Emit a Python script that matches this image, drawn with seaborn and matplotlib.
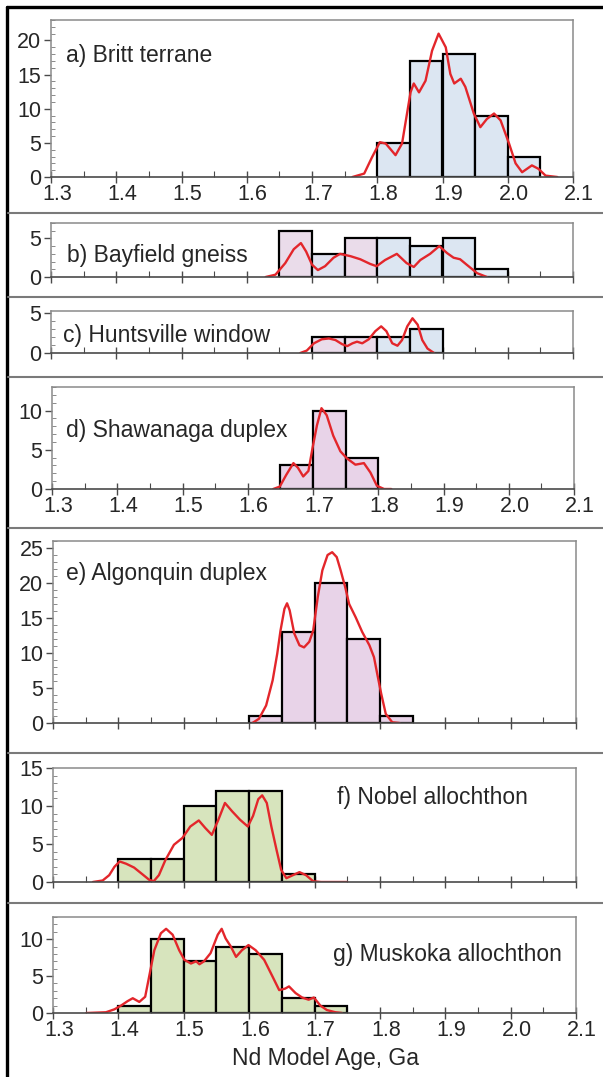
import numpy as np
import pandas as pd
import seaborn as sns
import matplotlib.pyplot as plt
from matplotlib.lines import Line2D
from matplotlib.transforms import ScaledTranslation
from matplotlib.ticker import MultipleLocator, FormatStrFormatter

#Data----------------------------------------------------------------------
# histogram bins: left edge of each 0.05 Ga bin and the count in it

britt_bins = [1.80, 1.85, 1.90, 1.95, 2.00]
britt_counts = [5, 17, 18, 9, 3]
britt_curve_x = [1.762, 1.780, 1.792, 1.804, 1.813, 1.828, 1.838, 1.851, 1.856, 1.864,
                 1.874, 1.884, 1.894, 1.905, 1.912, 1.918, 1.928, 1.935, 1.948, 1.958,
                 1.968, 1.979, 1.989, 2.002, 2.012, 2.022, 2.037, 2.047, 2.058, 2.076]
britt_curve_y = [0, 0.5, 2.9, 5.1, 4.9, 3.2, 4.9, 12.4, 13.7, 12.4,
                 14.1, 18.5, 21.0, 19.0, 15.1, 13.7, 14.4, 13.2, 9.3, 7.3,
                 8.5, 9.3, 8.3, 4.9, 2.0, 0.7, 1.7, 1.2, 0.2, 0]

bayfield_bins = [1.65, 1.70, 1.75, 1.80, 1.85, 1.90, 1.95]
bayfield_counts = [6, 3, 5, 5, 4, 5, 1]
bayfield_curve_x = [1.629, 1.644, 1.659, 1.672, 1.683, 1.691, 1.700, 1.709, 1.720, 1.733,
                    1.743, 1.759, 1.774, 1.789, 1.799, 1.812, 1.830, 1.845, 1.856, 1.866,
                    1.881, 1.895, 1.907, 1.917, 1.927, 1.937, 1.953, 1.968]
bayfield_curve_y = [0, 0.3, 1.8, 3.6, 4.4, 3.3, 1.6, 0.9, 1.4, 2.5,
                    3.0, 2.7, 2.3, 1.7, 1.4, 2.2, 3.0, 1.8, 1.3, 2.2,
                    3.0, 4.0, 3.1, 2.5, 2.3, 1.6, 0.5, 0]

huntsville_bins = [1.70, 1.75, 1.80, 1.85]
huntsville_counts = [2, 2, 2, 3]
huntsville_curve_x = [1.682, 1.692, 1.703, 1.715, 1.726, 1.736, 1.746, 1.754, 1.762, 1.769,
                      1.777, 1.787, 1.797, 1.806, 1.814, 1.823, 1.831, 1.838, 1.846, 1.854,
                      1.862, 1.869, 1.877, 1.887]
huntsville_curve_y = [0, 0.3, 1.2, 1.7, 1.8, 1.6, 1.1, 0.85, 1.2, 1.4,
                      1.2, 1.7, 2.7, 3.3, 2.7, 1.2, 0.9, 1.6, 3.3, 4.3,
                      3.5, 1.6, 0.55, 0]

shawanaga_bins = [1.65, 1.70, 1.75]
shawanaga_counts = [3, 10, 4]
shawanaga_curve_x = [1.639, 1.649, 1.659, 1.670, 1.677, 1.685, 1.693, 1.699, 1.706, 1.713,
                     1.721, 1.731, 1.742, 1.752, 1.765, 1.778, 1.788, 1.798, 1.809, 1.820]
shawanaga_curve_y = [0, 0.3, 1.8, 3.3, 2.7, 1.6, 2.3, 5.1, 8.1, 10.3,
                     9.4, 6.8, 4.8, 3.9, 3.1, 3.3, 2.1, 0.4, 0, 0]

algonquin_bins = [1.60, 1.65, 1.70, 1.75, 1.80]
algonquin_counts = [1, 13, 20, 12, 1]
algonquin_curve_x = [1.605, 1.615, 1.626, 1.636, 1.643, 1.648, 1.654, 1.658, 1.662, 1.669,
                     1.677, 1.684, 1.692, 1.698, 1.705, 1.712, 1.720, 1.727, 1.734, 1.740,
                     1.747, 1.753, 1.763, 1.773, 1.784, 1.791, 1.796, 1.802, 1.809, 1.819, 1.830]
algonquin_curve_y = [0, 0.6, 2.5, 6.1, 9.9, 13.2, 16.3, 17.1, 16.1, 12.8,
                     11.1, 10.8, 11.6, 13.2, 18.0, 21.8, 24.0, 24.4, 23.7, 21.8,
                     19.4, 17.0, 15.1, 13.0, 11.1, 9.4, 7.0, 4.2, 1.3, 0.1, 0]

nobel_bins = [1.40, 1.45, 1.50, 1.55, 1.60, 1.65]
nobel_counts = [3, 3, 10, 12, 12, 1]
nobel_curve_x = [1.361, 1.376, 1.386, 1.394, 1.402, 1.412, 1.424, 1.437, 1.447, 1.454,
                 1.462, 1.472, 1.485, 1.498, 1.510, 1.523, 1.533, 1.543, 1.553, 1.563,
                 1.574, 1.586, 1.598, 1.606, 1.614, 1.620, 1.627, 1.634, 1.642, 1.649,
                 1.657, 1.667, 1.677, 1.687, 1.698, 1.710, 1.750]
nobel_curve_y = [0, 0.2, 0.9, 2.0, 2.7, 2.4, 1.9, 1.0, 0.3, 0.1,
                 0.9, 2.9, 4.9, 5.8, 7.3, 8.1, 7.1, 6.2, 8.2, 10.4,
                 9.3, 8.2, 7.3, 8.7, 10.9, 11.4, 10.4, 7.3, 4.2, 1.6,
                 0.5, 0.9, 1.3, 0.9, 0.1, 0, 0]

muskoka_bins = [1.40, 1.45, 1.50, 1.55, 1.60, 1.65, 1.70]
muskoka_counts = [1, 10, 7, 9, 8, 2, 1]
muskoka_curve_x = [1.351, 1.381, 1.394, 1.404, 1.414, 1.422, 1.432, 1.441, 1.447, 1.455,
                   1.465, 1.473, 1.483, 1.493, 1.501, 1.511, 1.519, 1.524, 1.531, 1.541,
                   1.552, 1.558, 1.564, 1.572, 1.580, 1.589, 1.599, 1.610, 1.623, 1.636,
                   1.646, 1.655, 1.661, 1.671, 1.681, 1.691, 1.699, 1.709, 1.719, 1.732, 1.742]
muskoka_curve_y = [0, 0.1, 0.5, 1.0, 1.6, 2.0, 1.5, 2.2, 4.9, 8.5,
                   10.8, 11.4, 10.6, 8.5, 7.2, 6.7, 7.0, 6.6, 7.0, 8.1,
                   10.6, 11.4, 10.1, 9.0, 7.6, 8.5, 9.2, 8.5, 7.2, 4.9,
                   3.1, 3.3, 3.6, 2.7, 2.1, 1.8, 2.1, 1.0, 0.4, 0.1, 0]

x_ticks = [1.3, 1.4, 1.5, 1.6, 1.7, 1.8, 1.9, 2.0, 2.1]
x_label = "Nd Model Age, Ga"

#Style----------------------------------------------------------------------

BLUE = "#dce6f2"
LILAC = "#eadcea"
PINK = "#e8d3e8"
GREEN = "#d7e4bd"
RED = "#e3262b"
AXGRAY = "#8a8a8a"

sns.set_style("ticks")
plt.rcParams["font.family"] = ["Liberation Sans", "DejaVu Sans"]

W, H = 603, 1077
fig = plt.figure(figsize=(W / 100, H / 100), dpi=100)

# one entry per panel: bins, counts, curve, label, y-limit, y-step, fills, pixel box, label spot
panels = [
    (britt_bins, britt_counts, britt_curve_x, britt_curve_y, "a) Britt terrane",
     23, 5, [BLUE] * 5, (51, 573, 20, 177), (66, 62), True),
    (bayfield_bins, bayfield_counts, bayfield_curve_x, bayfield_curve_y, "b) Bayfield gneiss",
     7, 5, [LILAC, "#e0e2f0", LILAC, BLUE, BLUE, BLUE, "#e6edf6"], (51, 573, 223, 277), (67, 262), False),
    (huntsville_bins, huntsville_counts, huntsville_curve_x, huntsville_curve_y, "c) Huntsville window",
     5.2, 5, [LILAC, LILAC, BLUE, BLUE], (51, 573, 311, 353), (63, 342), False),
    (shawanaga_bins, shawanaga_counts, shawanaga_curve_x, shawanaga_curve_y, "d) Shawanaga duplex",
     13, 5, [PINK] * 3, (52, 574, 387, 489), (66, 437), True),
    (algonquin_bins, algonquin_counts, algonquin_curve_x, algonquin_curve_y, "e) Algonquin duplex",
     26, 5, [PINK] * 5, (53, 576, 541, 723), (66, 580), False),
    (nobel_bins, nobel_counts, nobel_curve_x, nobel_curve_y, "f) Nobel allochthon",
     15, 5, [GREEN] * 6, (53, 576, 768, 882), (337, 804), False),
    (muskoka_bins, muskoka_counts, muskoka_curve_x, muskoka_curve_y, "g) Muskoka allochthon",
     13, 5, [GREEN] * 7, (53, 576, 917, 1013), (333, 961), True),
]

# x tick labels sit a few pixels right of their ticks in the original
label_shift = ScaledTranslation(6 / 100, 0, fig.dpi_scale_trans)

for bins, counts, cx, cy, label, ytop, ystep, fills, box, lab_xy, show_x in panels:
    x0, x1, y0, y1 = box
    ax = fig.add_axes([x0 / W, 1 - y1 / H, (x1 - x0) / W, (y1 - y0) / H])

    hist = pd.DataFrame({"age": np.array(bins) + 0.025, "n": counts})
    edges = list(bins) + [bins[-1] + 0.05]
    sns.histplot(data=hist, x="age", weights="n", bins=edges, ax=ax, color=fills[0],
                 edgecolor="black", linewidth=1.6, alpha=1)
    for patch, fc in zip(ax.patches, fills):
        patch.set_facecolor(fc)
    sns.lineplot(x=cx, y=cy, ax=ax, color=RED, linewidth=1.7)

    ax.set_xlim(1.3, 2.1)
    ax.set_ylim(0, ytop)
    ax.set_xlabel("")
    ax.set_ylabel("")
    ax.set_xticks(x_ticks)
    ax.xaxis.set_minor_locator(MultipleLocator(0.05))
    ax.xaxis.set_major_formatter(FormatStrFormatter("%.1f"))
    ax.yaxis.set_major_locator(MultipleLocator(ystep))
    ax.yaxis.set_minor_locator(MultipleLocator(1))

    for side in ["top", "right", "left"]:
        ax.spines[side].set_color(AXGRAY)
        ax.spines[side].set_linewidth(1.1)
    ax.spines["bottom"].set_color("#4a4a4a")
    ax.spines["bottom"].set_linewidth(1.2)

    ax.tick_params(axis="x", which="major", direction="inout", length=8, width=1,
                   color="#4a4a4a", labelsize=15.5, pad=1, labelbottom=show_x)
    ax.tick_params(axis="x", which="minor", direction="in", length=4, width=0.8, color="#4a4a4a")
    ax.tick_params(axis="y", which="major", direction="out", length=5, width=1,
                   color="#4a4a4a", labelsize=15.5, pad=2)
    ax.tick_params(axis="y", which="minor", direction="in", length=3, width=0.7, color=AXGRAY)
    for tl in ax.get_xticklabels():
        tl.set_transform(tl.get_transform() + label_shift)

    fig.text(lab_xy[0] / W, 1 - lab_xy[1] / H, label, fontsize=16.5, va="baseline", ha="left")

fig.text(325 / W, 1 - 1058 / H, x_label, fontsize=16.5, ha="center", va="center")

# outer frame and panel separators
fig.add_artist(Line2D([7 / W, 7 / W], [0, 1 - 7 / H], color="black", linewidth=2.4))
fig.add_artist(Line2D([7 / W, 1], [1 - 7 / H, 1 - 7 / H], color="black", linewidth=2.4))
for sep in [213, 297, 377, 528, 753, 903]:
    fig.add_artist(Line2D([8 / W, 1], [1 - sep / H, 1 - sep / H], color="#7a7a7a", linewidth=1.5))

fig.savefig("out.png", dpi=100)
